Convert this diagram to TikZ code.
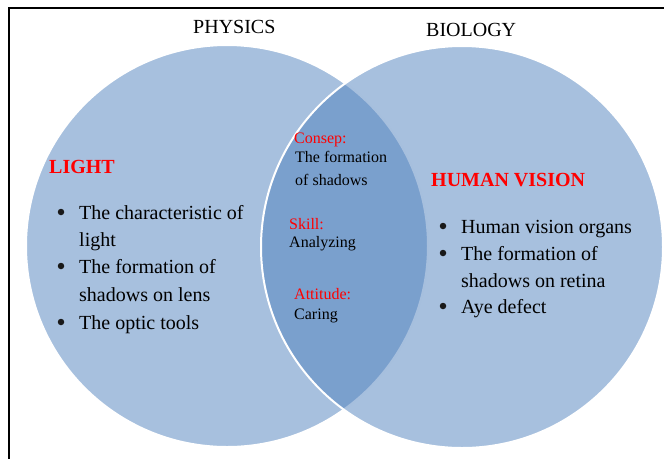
\documentclass[tikz,border=0pt]{standalone}
\usepackage{fontspec}
\setmainfont{Liberation Serif}
\definecolor{vennblue}{RGB}{79,129,189}
\definecolor{headred}{RGB}{255,0,0}
\tikzset{
  venn/.style={fill=vennblue, fill opacity=0.5, draw=white, draw opacity=1, line width=2pt},
  frameline/.style={line width=2pt, black},
  title/.style={font=\fontsize{20}{24}\selectfont, anchor=base west, inner sep=0pt},
  head/.style={font=\bfseries\fontsize{20}{24}\selectfont, text=headred, anchor=base west, inner sep=0pt},
  item/.style={font=\fontsize{20}{24}\selectfont, anchor=base west, inner sep=0pt},
  dot/.style={circle, fill=black!90, inner sep=0pt, minimum size=6.5pt, yshift=7pt},
  midhead/.style={font=\fontsize{16}{19}\selectfont, text=headred, anchor=base west, inner sep=0pt},
  midtext/.style={font=\fontsize{16}{19}\selectfont, anchor=base west, inner sep=0pt}
}
\begin{document}
\begin{tikzpicture}[x=1pt,y=-1pt]
  \useasboundingbox (0,0) rectangle (664,459);
  % frame (top and left edges)
  \coordinate (ftl) at (9,8);
  \coordinate (ftr) at (664,8);
  \coordinate (fbl) at (9,459);
  \draw[frameline] (ftr) -- (ftl) -- (fbl);

  % the two overlapping circles
  \path[venn] (227,246) circle[radius=201];
  \path[venn] (462,247) circle[radius=201];

  % circle titles
  \node[title] (physics) at (193,33) {PHYSICS};
  \node[title] (biology) at (426,36) {BIOLOGY};

  % left circle: light
  \node[head] (light) at (49,173) {LIGHT};
  \node[dot] (b1) at (61,219) {};
  \node[item] (l1a) at (79,219) {The characteristic of};
  \node[item] (l1b) at (79,246) {light};
  \node[dot] (b2) at (61,273) {};
  \node[item] (l2a) at (79,273) {The formation of};
  \node[item] (l2b) at (79,301) {shadows on lens};
  \node[dot] (b3) at (61,329) {};
  \node[item] (l3a) at (79,329) {The optic tools};

  % overlap: shared concept, skill and attitude
  \node[midhead] (consep) at (294,143) {Consep:};
  \node[midtext] (c1) at (295,162) {The formation};
  \node[midtext] (c2) at (295,185) {of shadows};
  \node[midhead] (skill) at (289,229) {Skill:};
  \node[midtext] (s1) at (289,247) {Analyzing};
  \node[midhead] (attitude) at (294,299) {Attitude:};
  \node[midtext] (a1) at (294,319) {Caring};

  % right circle: human vision
  \node[head] (vision) at (431,186) {HUMAN VISION};
  \node[dot] (r1) at (443,233) {};
  \node[item] (h1) at (461,233) {Human vision organs};
  \node[dot] (r2) at (443,260) {};
  \node[item] (h2a) at (461,260) {The formation of};
  \node[item] (h2b) at (461,287) {shadows on retina};
  \node[dot] (r3) at (443,313) {};
  \node[item] (h3) at (461,313) {Aye defect};
\end{tikzpicture}
\end{document}
